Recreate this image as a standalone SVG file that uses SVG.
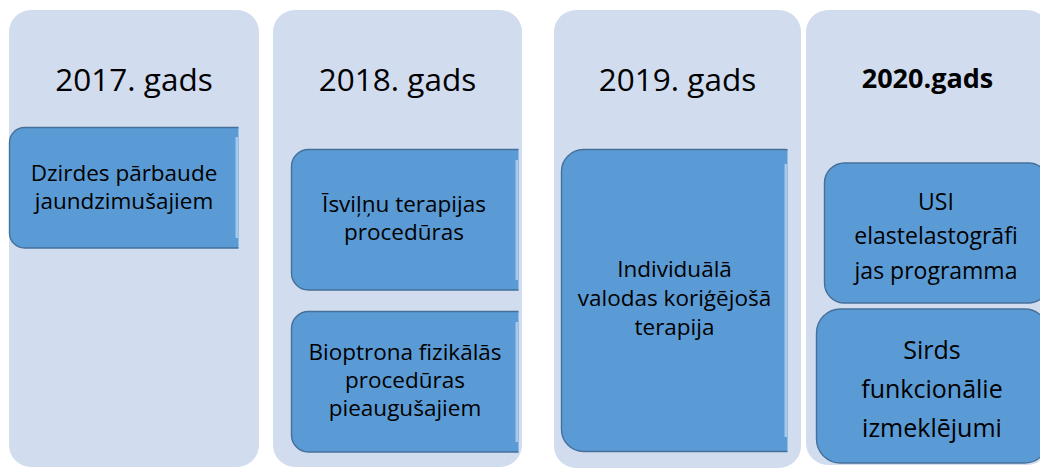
<svg xmlns="http://www.w3.org/2000/svg" width="1040" height="470" viewBox="0 0 1040 470">
  <style>
    .col { fill: #D1DCEE; }
    .box { fill: #5B9BD5; stroke: #46709A; stroke-width: 1.4; }
    .strip { fill: #A6C8EA; }
    .title { font-family: "Open Sans", "Liberation Sans", sans-serif; font-size: 31.5px; fill: #000; text-anchor: middle; }
    .title-b { font-family: "Open Sans", "Liberation Sans", sans-serif; font-size: 27px; font-weight: bold; fill: #000; text-anchor: middle; }
    .t { font-family: "Open Sans", "Liberation Sans", sans-serif; font-size: 22.5px; fill: #000; text-anchor: middle; }
    .t4a { font-family: "Open Sans", "Liberation Sans", sans-serif; font-size: 23px; fill: #000; text-anchor: middle; }
    .t4b { font-family: "Open Sans", "Liberation Sans", sans-serif; font-size: 25px; fill: #000; text-anchor: middle; }
  </style>
  <defs>
    <clipPath id="c1" clipPathUnits="userSpaceOnUse"><rect x="0" y="0" width="238.5" height="470"/></clipPath>
    <clipPath id="c2" clipPathUnits="userSpaceOnUse"><rect x="260" y="0" width="258.5" height="470"/></clipPath>
    <clipPath id="c3" clipPathUnits="userSpaceOnUse"><rect x="540" y="0" width="247.5" height="470"/></clipPath>
  </defs>
  <rect width="1040" height="470" fill="#FFFFFF"/>

  <g id="col-2017">
    <rect class="col" x="9" y="10" width="250" height="457" rx="22"/>
    <text class="title" x="134" y="91">2017. gads</text>
  </g>
  <g id="col-2018">
    <rect class="col" x="273" y="10" width="249" height="457" rx="22"/>
    <text class="title" x="397.5" y="91">2018. gads</text>
  </g>
  <g id="col-2019">
    <rect class="col" x="554" y="10" width="247" height="458" rx="22"/>
    <text class="title" x="677.5" y="91">2019. gads</text>
  </g>
  <g id="col-2020">
    <rect class="col" x="806" y="10" width="243" height="455" rx="22"/>
    <text class="title-b" x="927.5" y="88">2020.gads</text>
  </g>

  <g id="box-dzirdes">
    <rect class="box" x="9.5" y="127.5" width="245" height="120.5" rx="15" clip-path="url(#c1)"/>
    <rect class="strip" x="235.5" y="137" width="2.5" height="101"/>
    <text class="t" x="124" y="180.5">Dzirdes pārbaude</text>
    <text class="t" x="124" y="208.5">jaundzimušajiem</text>
  </g>

  <g id="box-isvilnu">
    <rect class="box" x="291.5" y="149.5" width="245" height="140.5" rx="17" clip-path="url(#c2)"/>
    <rect class="strip" x="515.5" y="160" width="2.5" height="120"/>
    <text class="t" x="404" y="212">Īsviļņu terapijas</text>
    <text class="t" x="404" y="240">procedūras</text>
  </g>

  <g id="box-bioptrona">
    <rect class="box" x="291.5" y="311.5" width="245" height="140.5" rx="17" clip-path="url(#c2)"/>
    <rect class="strip" x="515.5" y="322" width="2.5" height="120"/>
    <text class="t" x="405" y="360">Bioptrona fizikālās</text>
    <text class="t" x="405" y="388">procedūras</text>
    <text class="t" x="405" y="416">pieaugušajiem</text>
  </g>

  <g id="box-individuala">
    <rect class="box" x="561.5" y="149.5" width="245" height="302" rx="22" clip-path="url(#c3)"/>
    <rect class="strip" x="784.5" y="164" width="2.5" height="273"/>
    <text class="t" x="674.5" y="277">Individuālā</text>
    <text class="t" x="674.5" y="306">valodas koriģējošā</text>
    <text class="t" x="674.5" y="335">terapija</text>
  </g>

  <g id="box-usi">
    <rect class="box" x="824.5" y="163" width="224" height="140" rx="20"/>
    <text class="t4a" x="936" y="210">USI</text>
    <text class="t4a" x="936" y="244">elastelastogrāfi</text>
    <text class="t4a" x="936" y="279">jas programma</text>
  </g>

  <g id="box-sirds">
    <rect class="box" x="816.5" y="309" width="232" height="154" rx="24"/>
    <text class="t4b" x="932" y="359">Sirds</text>
    <text class="t4b" x="932" y="398">funkcionālie</text>
    <text class="t4b" x="932" y="437">izmeklējumi</text>
  </g>

  <g id="connectors"/>
</svg>
